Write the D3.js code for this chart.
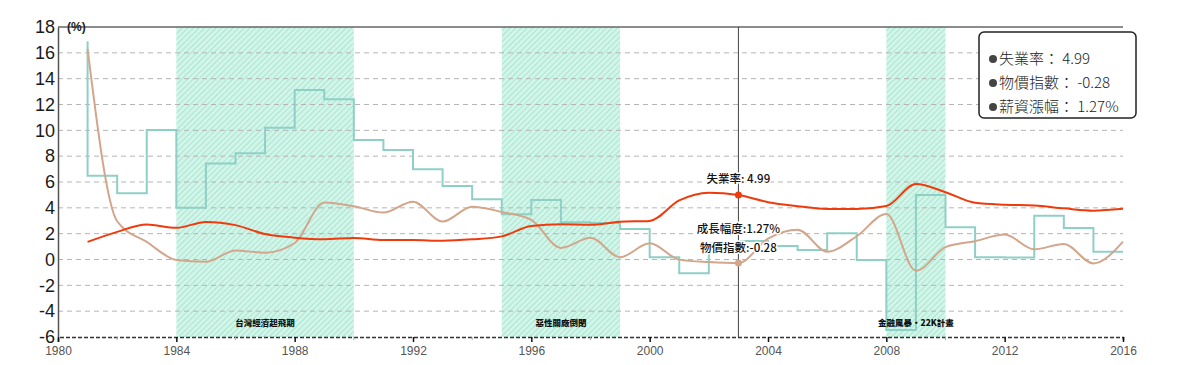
<!DOCTYPE html>
<html><head><meta charset="utf-8">
<script src="https://cdn.jsdelivr.net/npm/d3@7"></script>
<style>
body{margin:0;background:#fff;}
svg{display:block;}
</style></head>
<body>
<svg id="chart" width="1200" height="365"></svg>
<script>
const years = [1981,1982,1983,1984,1985,1986,1987,1988,1989,1990,1991,1992,1993,1994,1995,1996,1997,1998,1999,2000,2001,2002,2003,2004,2005,2006,2007,2008,2009,2010,2011,2012,2013,2014,2015,2016];
const unemployment = [1.36,2.14,2.71,2.45,2.91,2.66,1.97,1.69,1.57,1.67,1.51,1.51,1.45,1.56,1.79,2.60,2.72,2.69,2.92,2.99,4.57,5.17,4.99,4.44,4.13,3.91,3.91,4.14,5.85,5.21,4.39,4.24,4.18,3.96,3.78,3.92];
const cpi = [16.3,2.96,1.36,-0.03,-0.17,0.70,0.52,1.28,4.41,4.12,3.63,4.47,2.94,4.09,3.68,3.07,0.90,1.68,0.18,1.26,-0.01,-0.20,-0.28,1.61,2.31,0.60,1.80,3.52,-0.87,0.96,1.42,1.93,0.79,1.20,-0.30,1.39];
const wage = [16.9,6.49,5.12,10.02,4.01,7.44,8.22,10.2,13.12,12.4,9.25,8.47,6.98,5.69,4.66,3.5,4.6,2.88,2.82,2.36,0.17,-1.07,1.27,1.43,1.04,0.74,2.03,-0.04,-5.46,4.99,2.49,0.17,0.16,3.39,2.44,0.6];
const periods = [
  {start:1984, end:1990, label:"台灣經濟起飛期"},
  {start:1995, end:1999, label:"惡性關廠倒閉"},
  {start:2008, end:2010, label:"金融風暴・22K計畫"}
];
const yTicks = [-6,-4,-2,0,2,4,6,8,10,12,14,16,18];
const xMajorTicks = [1980,1984,1988,1992,1996,2000,2004,2008,2012,2016];
const xMinorTicks = [1982,1986,1990,1994,1998,2002,2006,2010,2014];
const focusYear = 2003;
const legendItems = ["失業率： 4.99","物價指數： -0.28","薪資漲幅： 1.27%"];
const focusLabels = {unemp:"失業率: 4.99", wage:"成長幅度:1.27%", cpi:"物價指數:-0.28"};

const svg = d3.select("#chart");
const x = d3.scaleLinear().domain([1980,2016]).range([58,1123]);
const y = d3.scaleLinear().domain([-6,18]).range([337,27]);

const defs = svg.append("defs");
const pat = defs.append("pattern").attr("id","hatch").attr("width",4).attr("height",4)
  .attr("patternUnits","userSpaceOnUse").attr("patternTransform","rotate(45)");
pat.append("rect").attr("width",4).attr("height",4).attr("fill","#d3f5e9");
pat.append("line").attr("x1",0).attr("y1",0).attr("x2",0).attr("y2",4).attr("stroke","#a8e6d0").attr("stroke-width",2);

// shaded periods
svg.append("g").selectAll("rect").data(periods).join("rect")
  .attr("x",d=>x(d.start)).attr("width",d=>x(d.end)-x(d.start))
  .attr("y",y(18)).attr("height",y(-6)-y(18))
  .attr("fill","url(#hatch)");

// grid
svg.append("g").selectAll("line").data(yTicks.filter(t=>t>-6 && t<18)).join("line")
  .attr("x1",x(1980)).attr("x2",x(2016)).attr("y1",d=>y(d)).attr("y2",d=>y(d))
  .attr("stroke","#b5b5b5").attr("stroke-width",1).attr("stroke-dasharray","5,4");

// top line
svg.append("line").attr("x1",x(1980)).attr("x2",x(2016)).attr("y1",y(18)).attr("y2",y(18))
  .attr("stroke","#666").attr("stroke-width",1.5);

// y axis
const yAxis = d3.axisLeft(y).tickValues(yTicks).tickSize(0).tickPadding(3).tickFormat(d=>String(d));
const gy = svg.append("g").attr("transform",`translate(${x(1980)},0)`).call(yAxis);
gy.select(".domain").attr("stroke","#555").attr("stroke-width",1.5);
gy.selectAll("text").attr("font-family","'Liberation Sans Narrow','Liberation Sans',sans-serif")
  .attr("font-size",18).attr("fill","#1a1a1a");

// x axis
const xAxis = d3.axisBottom(x).tickValues(xMajorTicks).tickSize(5).tickPadding(4).tickFormat(d=>String(d));
const gx = svg.append("g").attr("transform",`translate(0,${y(-6)})`).call(xAxis);
gx.select(".domain").attr("stroke","#333").attr("stroke-width",1.6).attr("stroke-dasharray","4,2");
gx.selectAll(".tick line").attr("stroke","#111").attr("stroke-width",1.5);
gx.selectAll("text").attr("font-family","'Liberation Sans',sans-serif").attr("font-size",12).attr("fill","#555");
svg.append("g").selectAll("line").data(xMinorTicks).join("line")
  .attr("x1",d=>x(d)).attr("x2",d=>x(d)).attr("y1",y(-6)).attr("y2",y(-6)+3)
  .attr("stroke","#aaa").attr("stroke-width",1);

// unit label
svg.append("text").attr("x",67).attr("y",31).text("(%)")
  .attr("font-family","'Liberation Sans',sans-serif").attr("font-size",12).attr("font-weight","bold").attr("fill","#222");

// lines
const wageLine = d3.line().x((d,i)=>x(years[i])).y(d=>y(d)).curve(d3.curveStepBefore);
const smooth = d3.line().x((d,i)=>x(years[i])).y(d=>y(d)).curve(d3.curveMonotoneX);
svg.append("path").attr("d",wageLine(wage)).attr("fill","none").attr("stroke","#8fd0c6").attr("stroke-width",2);
svg.append("path").attr("d",smooth(cpi)).attr("fill","none").attr("stroke","#d3a68c").attr("stroke-width",2);
svg.append("path").attr("d",smooth(unemployment)).attr("fill","none").attr("stroke","#ef3b0c").attr("stroke-width",2);

// period labels
svg.append("g").selectAll("text").data(periods).join("text")
  .attr("x",d=>(x(d.start)+x(d.end))/2).attr("y",326).attr("text-anchor","middle")
  .attr("font-family","'Noto Sans CJK TC',sans-serif").attr("font-size",8.5).attr("font-weight",900).attr("fill","#111")
  .text(d=>d.label);

// focus line
const fi = years.indexOf(focusYear);
svg.append("line").attr("x1",x(focusYear)).attr("x2",x(focusYear)).attr("y1",y(18)).attr("y2",y(-6))
  .attr("stroke","#444").attr("stroke-width",1);
svg.append("circle").attr("cx",x(focusYear)).attr("cy",y(unemployment[fi])).attr("r",3.5).attr("fill","#ef3b0c");
svg.append("circle").attr("cx",x(focusYear)).attr("cy",y(cpi[fi])).attr("r",3.5).attr("fill","#d3a68c");

function label(txt, yy){
  svg.append("text").attr("x",x(focusYear)).attr("y",yy).attr("text-anchor","middle")
    .attr("font-family","'Noto Sans CJK TC',sans-serif").attr("font-size",11.5).attr("font-weight",500).attr("fill","#111")
    .attr("stroke","#fff").attr("stroke-width",3).attr("paint-order","stroke").text(txt);
}
label(focusLabels.unemp, y(unemployment[fi])-12);
label(focusLabels.wage, y(wage[fi])-10);
label(focusLabels.cpi, y(cpi[fi])-11);

// legend
const lg = svg.append("g");
lg.append("rect").attr("x",979).attr("y",32).attr("width",157).attr("height",86).attr("rx",5)
  .attr("fill","#fff").attr("stroke","#222").attr("stroke-width",1.5);
legendItems.forEach((t,i)=>{
  const by = 64 + i*24;
  lg.append("circle").attr("cx",993).attr("cy",by-5).attr("r",4).attr("fill","#444");
  lg.append("text").attr("x",999).attr("y",by).text(t)
    .attr("font-family","'Noto Sans CJK TC',sans-serif").attr("font-size",15).attr("font-weight",300).attr("fill","#222");
});
</script>
</body></html>
